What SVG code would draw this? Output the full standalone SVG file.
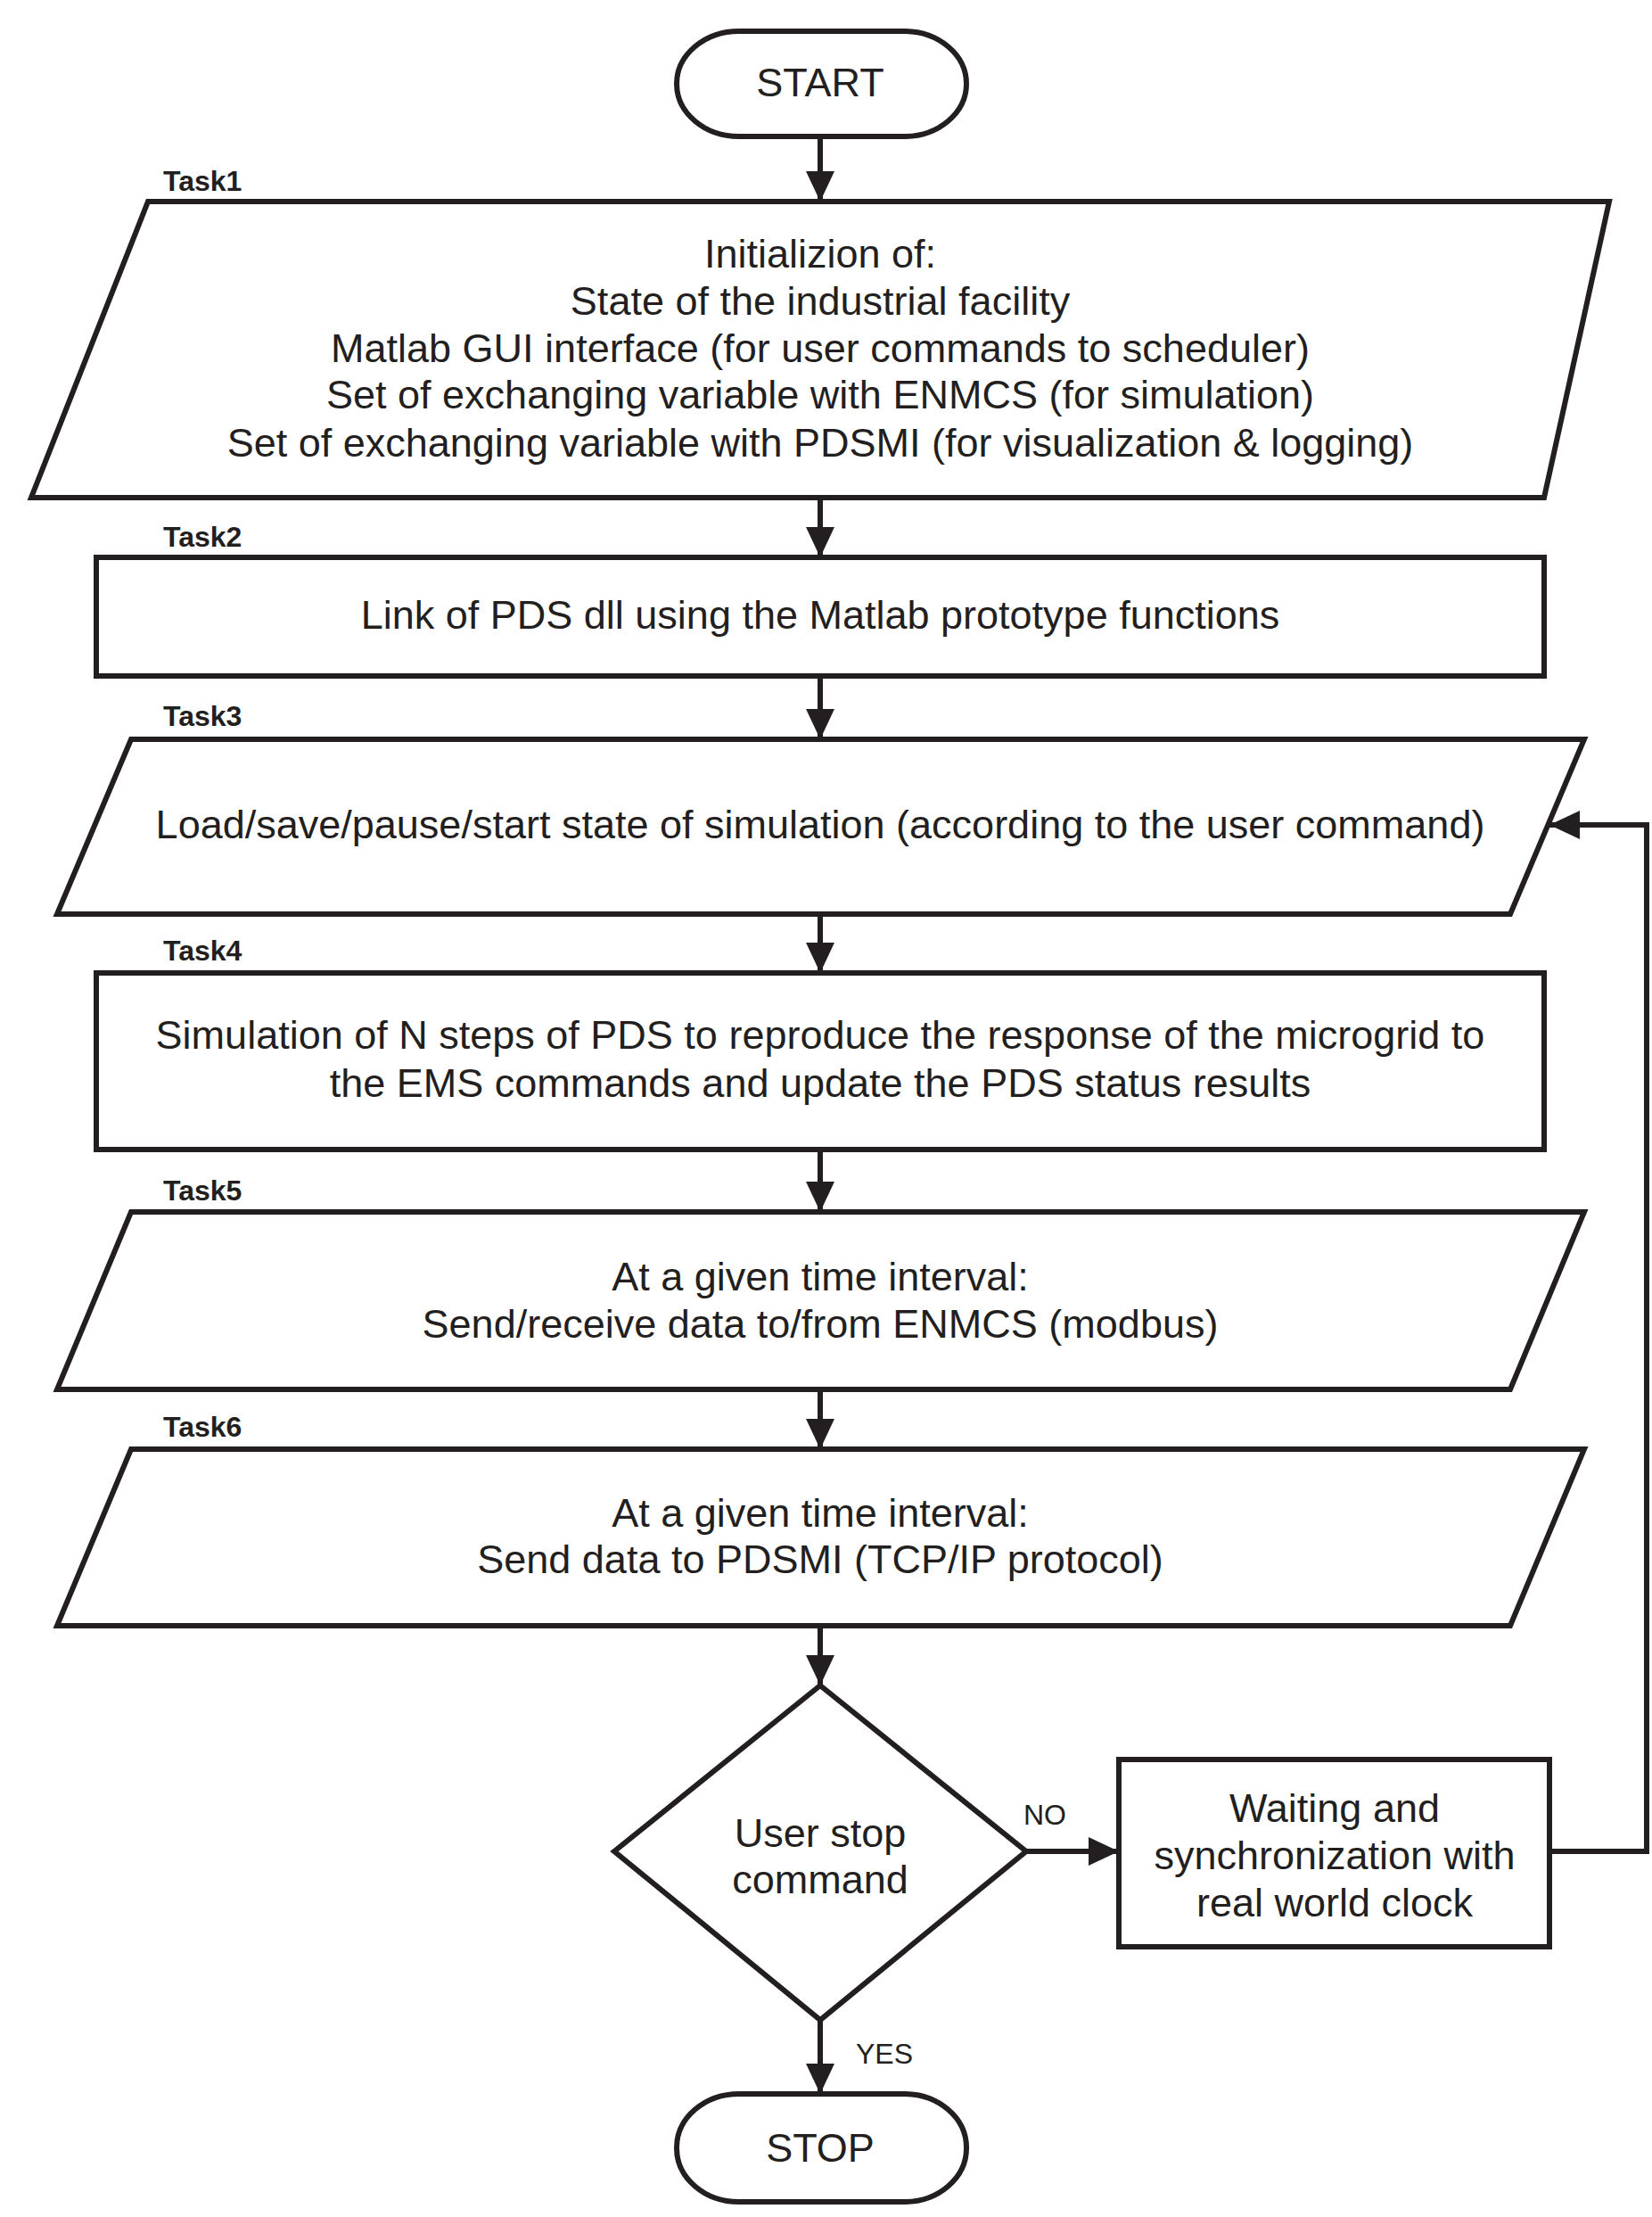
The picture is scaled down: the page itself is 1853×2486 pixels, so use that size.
<svg xmlns="http://www.w3.org/2000/svg" width="1853" height="2486" viewBox="0 0 1853 2486">
<style>
.s{fill:#fff;stroke:#231f20;stroke-width:6;stroke-linejoin:miter}
.t{font-family:"Liberation Sans",Arial,sans-serif;font-size:45px;fill:#231f20;text-anchor:middle}
.k{font-family:"Liberation Sans",Arial,sans-serif;font-size:32px;font-weight:bold;fill:#231f20}
.l{font-family:"Liberation Sans",Arial,sans-serif;font-size:32px;fill:#231f20}
.c{fill:none;stroke:#231f20;stroke-width:6}
</style>
<defs><marker id="a" markerUnits="userSpaceOnUse" markerWidth="34" markerHeight="36" refX="34" refY="18" orient="auto"><path d="M0,2 L34,18 L0,34 Z" fill="#231f20"/></marker></defs>
<g id="connectors">
<line class="c" x1="920" y1="153" x2="920" y2="226" marker-end="url(#a)"/>
<line class="c" x1="920" y1="558" x2="920" y2="625" marker-end="url(#a)"/>
<line class="c" x1="920" y1="758" x2="920" y2="829" marker-end="url(#a)"/>
<line class="c" x1="920" y1="1025" x2="920" y2="1091" marker-end="url(#a)"/>
<line class="c" x1="920" y1="1289" x2="920" y2="1359" marker-end="url(#a)"/>
<line class="c" x1="920" y1="1558" x2="920" y2="1625" marker-end="url(#a)"/>
<line class="c" x1="920" y1="1823" x2="920" y2="1890" marker-end="url(#a)"/>
<line class="c" x1="1151" y1="2076" x2="1255" y2="2076" marker-end="url(#a)"/>
<line class="c" x1="920" y1="2265" x2="920" y2="2348" marker-end="url(#a)"/>
<polyline class="c" points="1738,2076 1847,2076 1847,925 1738,925" marker-end="url(#a)"/>
<text class="l" x="1148" y="2046">NO</text>
<text class="l" x="960" y="2314">YES</text>
</g>
<g id="start"><rect class="s" x="759" y="35" width="325" height="118" rx="70" ry="59"/><text class="t" x="920" y="108">START</text></g>
<g id="task1"><text class="k" x="183" y="214">Task1</text>
<polygon class="s" points="166,226 1805,226 1732,558 35,558"/>
<text class="t" x="920" y="300">Initializion of:</text>
<text class="t" x="920" y="353">State of the industrial facility</text>
<text class="t" x="920" y="406">Matlab GUI interface (for user commands to scheduler)</text>
<text class="t" x="920" y="458">Set of exchanging variable with ENMCS (for simulation)</text>
<text class="t" x="920" y="512">Set of exchanging variable with PDSMI (for visualization &amp; logging)</text></g>
<g id="task2"><text class="k" x="183" y="613">Task2</text>
<rect class="s" x="108" y="625" width="1624" height="133"/>
<text class="t" x="920" y="705">Link of PDS dll using the Matlab prototype functions</text></g>
<g id="task3"><text class="k" x="183" y="814">Task3</text>
<polygon class="s" points="147,829 1777,829 1694,1025 64,1025"/>
<text class="t" x="920" y="940">Load/save/pause/start state of simulation (according to the user command)</text></g>
<g id="task4"><text class="k" x="183" y="1077">Task4</text>
<rect class="s" x="108" y="1091" width="1624" height="198"/>
<text class="t" x="920" y="1176">Simulation of N steps of PDS to reproduce the response of the microgrid to</text>
<text class="t" x="920" y="1230">the EMS commands and update the PDS status results</text></g>
<g id="task5"><text class="k" x="183" y="1346">Task5</text>
<polygon class="s" points="147,1359 1777,1359 1694,1558 64,1558"/>
<text class="t" x="920" y="1447">At a given time interval:</text>
<text class="t" x="920" y="1500">Send/receive data to/from ENMCS (modbus)</text></g>
<g id="task6"><text class="k" x="183" y="1611">Task6</text>
<polygon class="s" points="147,1625 1777,1625 1694,1823 64,1823"/>
<text class="t" x="920" y="1712">At a given time interval:</text>
<text class="t" x="920" y="1764">Send data to PDSMI (TCP/IP protocol)</text></g>
<g id="decision"><polygon class="s" points="920,1890 1151,2076 920,2265 689,2076"/>
<text class="t" x="920" y="2071">User stop</text>
<text class="t" x="920" y="2123">command</text></g>
<g id="wait"><rect class="s" x="1255" y="1973" width="483" height="210"/>
<text class="t" x="1497" y="2043">Waiting and</text>
<text class="t" x="1497" y="2096">synchronization with</text>
<text class="t" x="1497" y="2149">real world clock</text></g>
<g id="stop"><rect class="s" x="759" y="2348" width="325" height="121" rx="70" ry="60"/><text class="t" x="920" y="2424">STOP</text></g>
</svg>
